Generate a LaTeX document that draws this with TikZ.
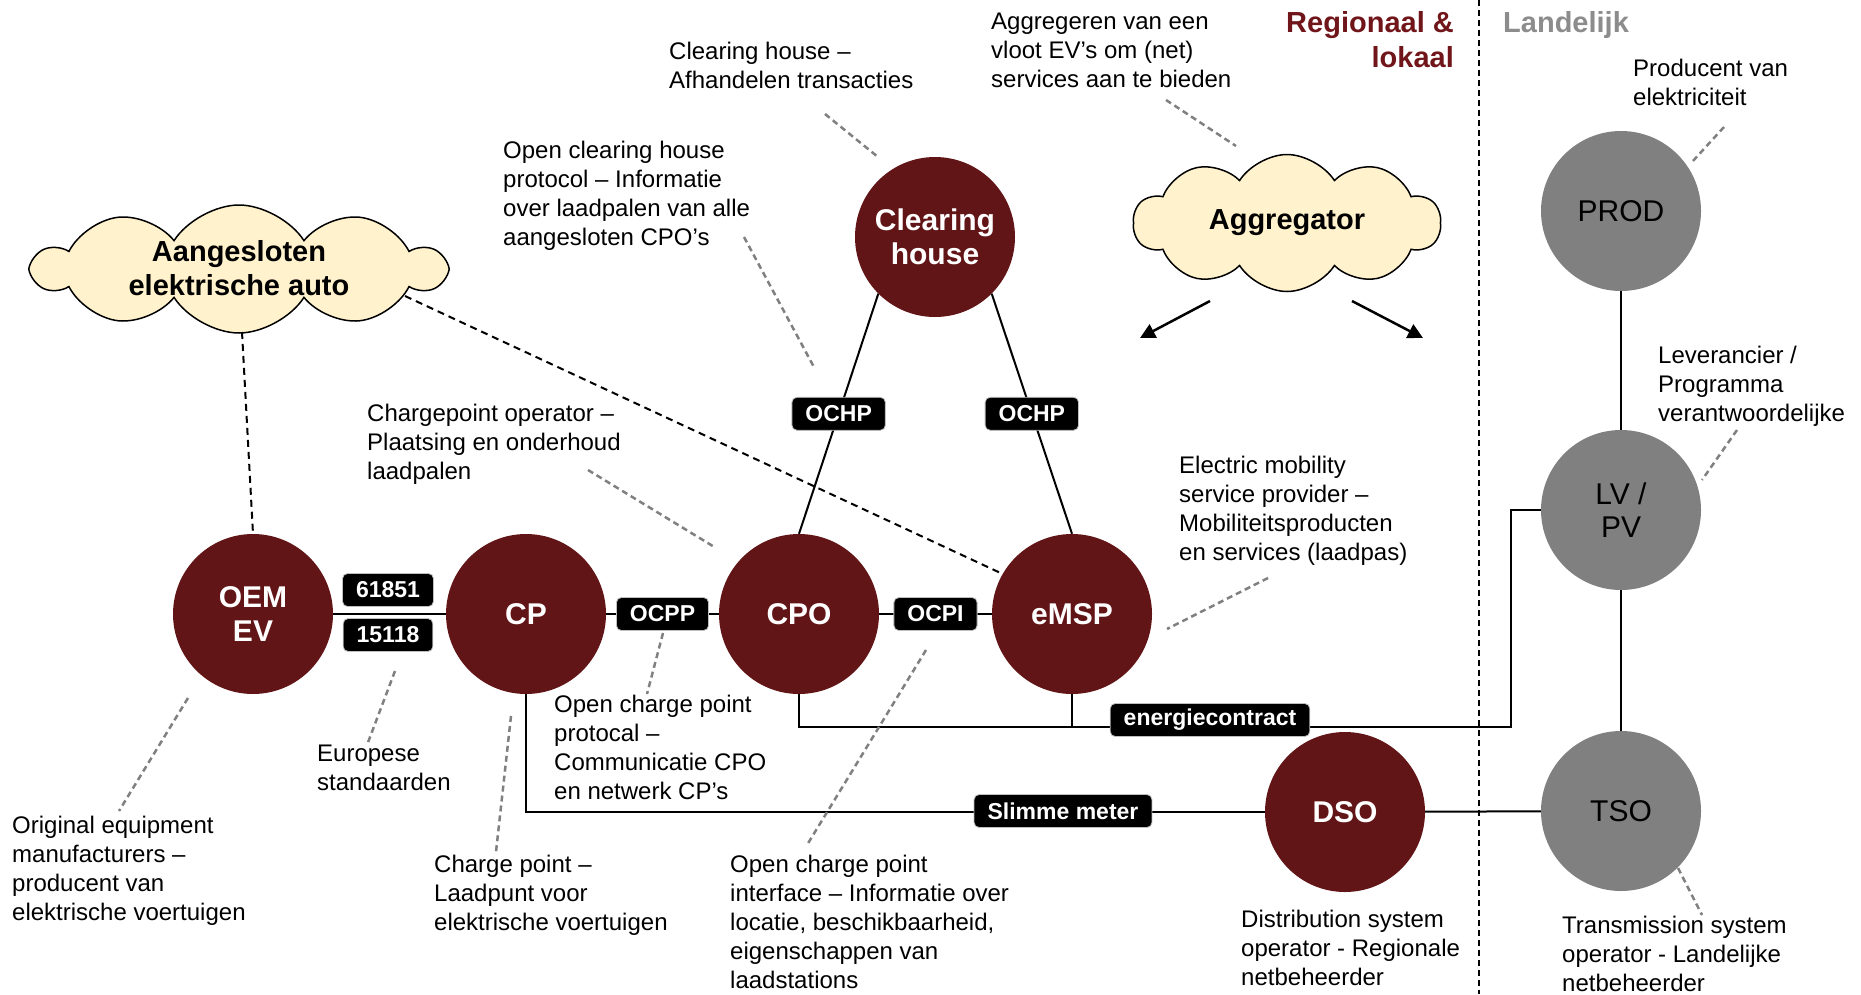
\documentclass[tikz,border=0pt]{standalone}
\usepackage{fontspec}
\setmainfont{Liberation Sans}
\usetikzlibrary{shapes.symbols,arrows.meta,calc}
\definecolor{dred}{RGB}{98,21,22}
\definecolor{tred}{RGB}{112,22,26}
\definecolor{cgray}{RGB}{128,128,128}
\definecolor{lgray}{RGB}{140,140,140}
\definecolor{cloudc}{RGB}{255,242,204}
\begin{document}
\begin{tikzpicture}[x=1pt,y=-1pt,
 actor/.style={circle, minimum size=160pt, inner sep=0pt, fill=dred, text=white, align=center, font=\bfseries\fontsize{30}{34}\selectfont},
 grayactor/.style={circle, minimum size=160pt, inner sep=0pt, fill=cgray, text=black, align=center, font=\fontsize{30}{33}\selectfont},
 tag/.style={fill=black, text=white, rounded corners=5pt, inner xsep=13.5pt, inner ysep=0pt, minimum height=33pt, font=\bfseries\fontsize{23}{24}\selectfont, draw=black!25, line width=0.8pt},
 note/.style={font=\fontsize{24}{29}\selectfont, align=left, anchor=north west, inner sep=0pt},
 link/.style={line width=2pt, black},
 leader/.style={line width=2.5pt, cgray, dash pattern=on 6pt off 4pt},
 blackdash/.style={line width=2pt, black, dash pattern=on 7pt off 5pt},
 cloudnode/.style={cloud, cloud puffs=10, cloud puff arc=115, fill=cloudc, draw=black, line width=1.5pt, inner sep=0pt},
 cloudtext/.style={align=center, font=\bfseries\fontsize{29}{34}\selectfont, inner sep=0pt},
 arrowline/.style={line width=2.5pt, black, -{Triangle[length=15pt,width=15pt]}},
]
\useasboundingbox (0,0) rectangle (1861,994);

% separator
\coordinate (septop) at (1479,0);
\coordinate (sepbot) at (1479,994);
\draw[line width=2pt, dash pattern=on 6pt off 4pt] (septop) -- (sepbot);

% actors
\node[actor] (oem) at (253,614) {OEM\\EV};
\node[actor] (cp) at (526,614) {CP};
\node[actor] (cpo) at (799,614) {CPO};
\node[actor] (emsp) at (1072,614) {eMSP};
\node[actor] (ch) at (935,237) {Clearing\\house};
\node[actor] (dso) at (1345,812) {DSO};
\node[grayactor] (prod) at (1621,211) {PROD};
\node[grayactor] (lvpv) at (1621,510) {LV /\\PV};
\node[grayactor] (tso) at (1621,811) {TSO};

% clouds
\node[cloudnode, minimum width=410pt, minimum height=128pt] (aang) at (239,269) {};
\node[cloudtext] (aangtxt) at (239,268) {Aangesloten\\elektrische auto};
\node[cloudnode, minimum width=307pt, minimum height=137pt] (agg) at (1287,223) {};
\node[cloudtext] (aggtxt) at (agg.center) {Aggregator};

% connectors
\draw[link] (oem) -- (cp);
\node[tag] (t61851) at (388,590) {61851};
\node[tag] (t15118) at (388,635) {15118};
\draw[link] (cp) -- node[tag] (ocpp) {OCPP} (cpo);
\draw[link] (cpo) -- node[tag] (ocpi) {OCPI} (emsp);
\draw[link] (ch.225) -- node[tag] (ochp1) {OCHP} (cpo.north);
\draw[link] (ch.315) -- node[tag] (ochp2) {OCHP} (emsp.north);

\coordinate (eccorner) at (1511,727);
\draw[link] (cpo.south) |- (eccorner) |- (lvpv.west);
\draw[link] (emsp.south) -- (emsp.south |- eccorner);
\node[tag] (ec) at (1210,720) {energiecontract};

\draw[link] (cp.south) |- (dso.west);
\node[tag] (sm) at (1063,811) {Slimme meter};
\draw[link] (dso) -- (tso);
\draw[link] (prod) -- (lvpv);
\draw[link] (lvpv) -- (tso);

\draw[blackdash] ($(aang.center)+(3,63)$) -- (oem.north);
\draw[blackdash] ($(aang.center)+(166,27)$) -- (emsp.150);

\coordinate (a1) at (1140,338);
\coordinate (a2) at (1423,338);
\draw[arrowline] ($(agg.center)+(-77,78)$) -- (a1);
\draw[arrowline] ($(agg.center)+(65,78)$) -- (a2);

% headers
\node[font=\bfseries\fontsize{29}{35}\selectfont, text=tred, align=right, anchor=north east, inner sep=0pt] (reg) at (1454,11) {Regionaal \&\\lokaal};
\node[font=\bfseries\fontsize{29}{35}\selectfont, text=lgray, anchor=north west, inner sep=0pt] (land) at (1503,11) {Landelijk};

% notes
\node[note] (n1) at (669,42) {Clearing house –\\Afhandelen transacties};
\node[note] (n2) at (991,13) {Aggregeren van een\\vloot EV’s om (net)\\services aan te bieden};
\node[note] (n3) at (1633,59) {Producent van\\elektriciteit};
\node[note] (n4) at (503,141) {Open clearing house\\protocol – Informatie\\over laadpalen van alle\\aangesloten CPO’s};
\node[note] (n5) at (367,404) {Chargepoint operator –\\Plaatsing en onderhoud\\laadpalen};
\node[note] (n6) at (1658,346) {Leverancier /\\Programma\\verantwoordelijke};
\node[note] (n7) at (1179,456) {Electric mobility\\service provider –\\Mobiliteitsproducten\\en services (laadpas)};
\node[note] (n8) at (554,695) {Open charge point\\protocal –\\Communicatie CPO\\en netwerk CP’s};
\node[note] (n9) at (317,745) {Europese\\standaarden};
\node[note] (n10) at (12,816) {Original equipment\\manufacturers –\\producent van\\elektrische voertuigen};
\node[note] (n11) at (434,855) {Charge point –\\Laadpunt voor\\elektrische voertuigen};
\node[note] (n12) at (730,855) {Open charge point\\interface – Informatie over\\locatie, beschikbaarheid,\\eigenschappen van\\laadstations};
\node[note] (n13) at (1241,910) {Distribution system\\operator - Regionale\\netbeheerder};
\node[note] (n14) at (1562,916) {Transmission system\\operator - Landelijke\\netbeheerder};

% leaders
\draw[leader] (825,114) -- (878,157);
\draw[leader] (1166,100) -- (1236,146);
\draw[leader] (1724,127) -- (1692,162);
\draw[leader] (744,237) -- (815,369);
\draw[leader] (588,470) -- (716,548);
\draw[leader] (1737,430) -- (1702,480);
\draw[leader] (1268,578) -- (1167,629);
\draw[leader] (663,633) -- (647,694);
\draw[leader] (395,671) -- (367,745);
\draw[leader] (188,698) -- (119,811);
\draw[leader] (511,716) -- (496,852);
\draw[leader] (926,650) -- (807,845);
\draw[leader] (1678,868) -- (1702,915);
\end{tikzpicture}
\end{document}
